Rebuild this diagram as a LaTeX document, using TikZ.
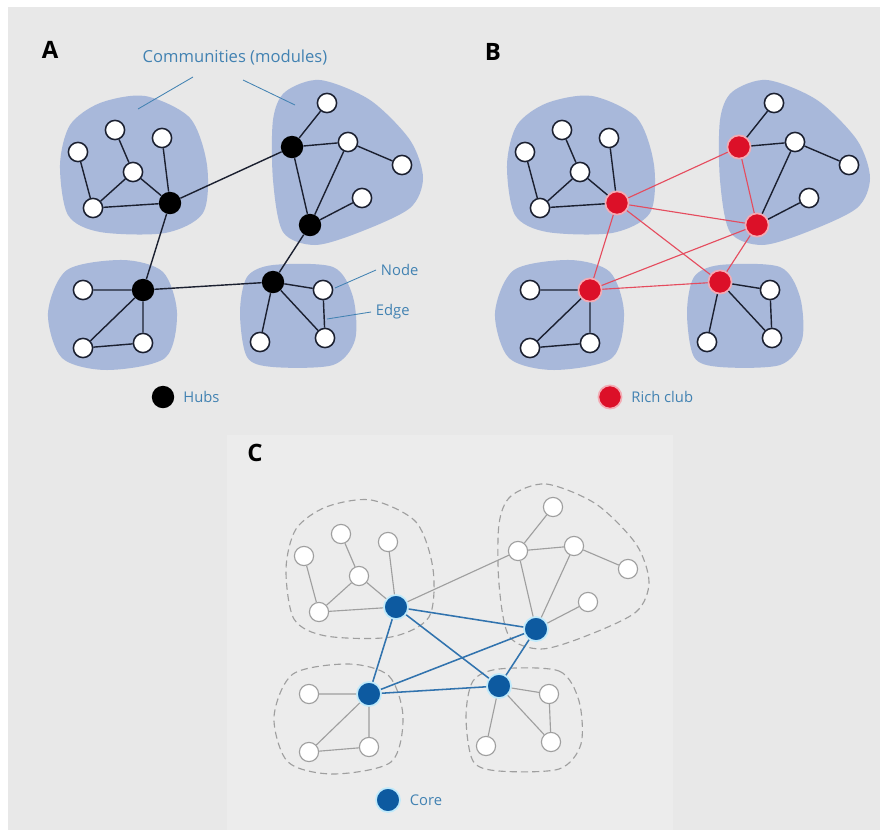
\documentclass[tikz,border=0pt]{standalone}
\usepackage{fontspec}
\setmainfont{Open Sans}
\usepackage{xcolor}
\usepackage{tikz}
\usetikzlibrary{positioning}

\definecolor{modfill}{HTML}{A8B8DA}
\definecolor{ink}{HTML}{1B2030}
\definecolor{labelblue}{HTML}{4282B2}
\definecolor{richred}{HTML}{DC1028}
\definecolor{coreblue}{HTML}{0D5AA0}
\definecolor{paper}{HTML}{E8E8E8}
\definecolor{paperC}{HTML}{ECECEC}

\tikzset{
  wnode/.style={circle,draw=ink,fill=white,line width=1.1pt,minimum size=0.48cm,inner sep=0pt},
  hub/.style={circle,fill=black,minimum size=0.56cm,inner sep=0pt},
  rich/.style={circle,fill=richred,draw=richred!35,line width=1.2pt,minimum size=0.58cm,inner sep=0pt},
  core/.style={circle,fill=coreblue,draw=cyan!25,line width=1.2pt,minimum size=0.6cm,inner sep=0pt},
  cnode/.style={circle,draw=gray!75,fill=white,line width=0.8pt,minimum size=0.48cm,inner sep=0pt},
  link/.style={ink,line width=1pt},
  redge/.style={richred!75,line width=0.8pt},
  cedge/.style={gray!75,line width=0.8pt},
  coreedge/.style={coreblue!85,line width=1.1pt},
  module/.style={fill=modfill},
  cmodule/.style={draw=gray!75,dash pattern=on 5pt off 3pt,line width=0.8pt},
  note/.style={text=labelblue,font=\fontsize{10.5}{12}\selectfont},
  leader/.style={labelblue,line width=0.6pt},
  panel/.style={font=\fontsize{17}{20}\selectfont\bfseries},
  moduleTL/.style={insert path={plot[smooth cycle] coordinates {(100,103) (145,96) (190,118) (207,165) (203,213) (165,233) (100,232) (68,215) (60,165) (70,125)}}},
  moduleTR/.style={insert path={plot[smooth cycle] coordinates {(285,92) (320,80) (370,100) (410,140) (423,178) (410,208) (360,232) (315,245) (283,232) (273,180) (273,120)}}},
  moduleBL/.style={insert path={plot[smooth cycle] coordinates {(123,260) (163,272) (177,313) (165,358) (107,370) (62,358) (48,313) (67,270)}}},
  moduleBR/.style={insert path={plot[smooth cycle] coordinates {(273,265) (333,267) (353,297) (355,340) (333,365) (273,367) (247,357) (240,313) (247,277)}}}
}

\begin{document}
\begin{tikzpicture}[x=0.025cm,y=-0.025cm]
	\useasboundingbox (0,0) rectangle (880,830);
	\fill[white] (0,0) rectangle (880,830);
	\fill[paper] (8,7) rectangle (880,830);
	\fill[paperC] (227,435) rectangle (673,830);

	% panel A: hubs
	\node[panel] (labA) at (50,50) {A};
	\fill[module,moduleTL]; \fill[module,moduleTR];
	\fill[module,moduleBL]; \fill[module,moduleBR];
	\node[wnode] (a-w1) at (78,152) {};
	\node[wnode] (a-w2) at (115,130) {};
	\node[wnode] (a-w3) at (162,138) {};
	\node[wnode] (a-w4) at (133,172) {};
	\node[wnode] (a-w5) at (93,208) {};
	\node[hub] (a-h1) at (170,203) {};
	\node[wnode] (a-w6) at (327,103) {};
	\node[hub] (a-h2) at (292,147) {};
	\node[wnode] (a-w7) at (348,142) {};
	\node[wnode] (a-w8) at (402,165) {};
	\node[wnode] (a-w9) at (362,198) {};
	\node[hub] (a-h3) at (310,225) {};
	\node[hub] (a-h4) at (143,290) {};
	\node[wnode] (a-w10) at (83,290) {};
	\node[wnode] (a-w11) at (83,348) {};
	\node[wnode] (a-w12) at (143,343) {};
	\node[hub] (a-h5) at (273,282) {};
	\node[wnode] (a-w13) at (323,290) {};
	\node[wnode] (a-w14) at (260,342) {};
	\node[wnode] (a-w15) at (325,338) {};
	\draw[link] (a-w1)--(a-w5) (a-w5)--(a-w4) (a-w4)--(a-w2) (a-w4)--(a-h1) (a-w3)--(a-h1) (a-w5)--(a-h1);
	\draw[link] (a-h2)--(a-w6) (a-h2)--(a-w7) (a-w7)--(a-w8) (a-w7)--(a-h3) (a-h2)--(a-h3) (a-h3)--(a-w9);
	\draw[link] (a-h4)--(a-w10) (a-h4)--(a-w11) (a-h4)--(a-w12) (a-w11)--(a-w12);
	\draw[link] (a-h5)--(a-w13) (a-h5)--(a-w14) (a-h5)--(a-w15) (a-w13)--(a-w15);
	\draw[link] (a-h1)--(a-h2) (a-h1)--(a-h4) (a-h3)--(a-h5) (a-h4)--(a-h5);
	% labels of panel A
	\node[note,font=\fontsize{11.8}{14}\selectfont] (comm) at (235,58) {Communities (modules)};
	\coordinate (comm-l) at (138,109);
	\coordinate (comm-r) at (295,105);
	\draw[leader] (193,77)--(comm-l);
	\draw[leader] (243,80)--(comm-r);
	\node[note,anchor=west] (lab-node) at (376,270) {Node};
	\node[note,anchor=west] (lab-edge) at (371,312) {Edge};
	\coordinate (pt-node) at (335,288);
	\coordinate (pt-edge) at (327,319);
	\draw[leader] (lab-node.west)--(pt-node);
	\draw[leader] (lab-edge.west)--(pt-edge);
	\node[hub] (a-key) at (163,397) {};
	\node[note,right=1mm of a-key] (a-keytext) {Hubs};

	% panel B: rich club
	\node[panel] (labB) at (493,52) {B};
	\begin{scope}[shift={(447,0)}]
	\fill[module,moduleTL]; \fill[module,moduleTR];
	\fill[module,moduleBL]; \fill[module,moduleBR];
	\node[wnode] (b-w1) at (78,152) {};
	\node[wnode] (b-w2) at (115,130) {};
	\node[wnode] (b-w3) at (162,138) {};
	\node[wnode] (b-w4) at (133,172) {};
	\node[wnode] (b-w5) at (93,208) {};
	\node[rich] (b-h1) at (170,203) {};
	\node[wnode] (b-w6) at (327,103) {};
	\node[rich] (b-h2) at (292,147) {};
	\node[wnode] (b-w7) at (348,142) {};
	\node[wnode] (b-w8) at (402,165) {};
	\node[wnode] (b-w9) at (362,198) {};
	\node[rich] (b-h3) at (310,225) {};
	\node[rich] (b-h4) at (143,290) {};
	\node[wnode] (b-w10) at (83,290) {};
	\node[wnode] (b-w11) at (83,348) {};
	\node[wnode] (b-w12) at (143,343) {};
	\node[rich] (b-h5) at (273,282) {};
	\node[wnode] (b-w13) at (323,290) {};
	\node[wnode] (b-w14) at (260,342) {};
	\node[wnode] (b-w15) at (325,338) {};
	\draw[link] (b-w1)--(b-w5) (b-w5)--(b-w4) (b-w4)--(b-w2) (b-w4)--(b-h1) (b-w3)--(b-h1) (b-w5)--(b-h1);
	\draw[link] (b-h2)--(b-w6) (b-h2)--(b-w7) (b-w7)--(b-w8) (b-w7)--(b-h3) (b-h3)--(b-w9);
	\draw[link] (b-h4)--(b-w10) (b-h4)--(b-w11) (b-h4)--(b-w12) (b-w11)--(b-w12);
	\draw[link] (b-h5)--(b-w13) (b-h5)--(b-w14) (b-h5)--(b-w15) (b-w13)--(b-w15);
	\draw[redge] (b-h1)--(b-h2) (b-h1)--(b-h3) (b-h1)--(b-h4) (b-h1)--(b-h5);
	\draw[redge] (b-h2)--(b-h3) (b-h3)--(b-h4) (b-h3)--(b-h5) (b-h4)--(b-h5);
	\end{scope}
	\node[rich] (b-key) at (610,397) {};
	\node[note,right=1mm of b-key] (b-keytext) {Rich club};

	% panel C: core
	\node[panel] (labC) at (255,453) {C};
	\begin{scope}[shift={(226,404)}]
	\draw[cmodule,moduleTL]; \draw[cmodule,moduleTR];
	\draw[cmodule,moduleBL]; \draw[cmodule,moduleBR];
	\node[cnode] (c-w1) at (78,152) {};
	\node[cnode] (c-w2) at (115,130) {};
	\node[cnode] (c-w3) at (162,138) {};
	\node[cnode] (c-w4) at (133,172) {};
	\node[cnode] (c-w5) at (93,208) {};
	\node[core] (c-h1) at (170,203) {};
	\node[cnode] (c-w6) at (327,103) {};
	\node[cnode] (c-g2) at (292,147) {};
	\node[cnode] (c-w7) at (348,142) {};
	\node[cnode] (c-w8) at (402,165) {};
	\node[cnode] (c-w9) at (362,198) {};
	\node[core] (c-h3) at (310,225) {};
	\node[core] (c-h4) at (143,290) {};
	\node[cnode] (c-w10) at (83,290) {};
	\node[cnode] (c-w11) at (83,348) {};
	\node[cnode] (c-w12) at (143,343) {};
	\node[core] (c-h5) at (273,282) {};
	\node[cnode] (c-w13) at (323,290) {};
	\node[cnode] (c-w14) at (260,342) {};
	\node[cnode] (c-w15) at (325,338) {};
	\draw[cedge] (c-w1)--(c-w5) (c-w5)--(c-w4) (c-w4)--(c-w2) (c-w4)--(c-h1) (c-w3)--(c-h1) (c-w5)--(c-h1);
	\draw[cedge] (c-g2)--(c-w6) (c-g2)--(c-w7) (c-w7)--(c-w8) (c-w7)--(c-h3) (c-g2)--(c-h3) (c-h3)--(c-w9);
	\draw[cedge] (c-h4)--(c-w10) (c-h4)--(c-w11) (c-h4)--(c-w12) (c-w11)--(c-w12);
	\draw[cedge] (c-h5)--(c-w13) (c-h5)--(c-w14) (c-h5)--(c-w15) (c-w13)--(c-w15);
	\draw[cedge] (c-h1)--(c-g2);
	\draw[coreedge] (c-h1)--(c-h3) (c-h1)--(c-h4) (c-h1)--(c-h5);
	\draw[coreedge] (c-h3)--(c-h4) (c-h3)--(c-h5) (c-h4)--(c-h5);
	\end{scope}
	\node[core] (c-key) at (388,800) {};
	\node[note,right=1mm of c-key] (c-keytext) {Core};
\end{tikzpicture}
\end{document}
